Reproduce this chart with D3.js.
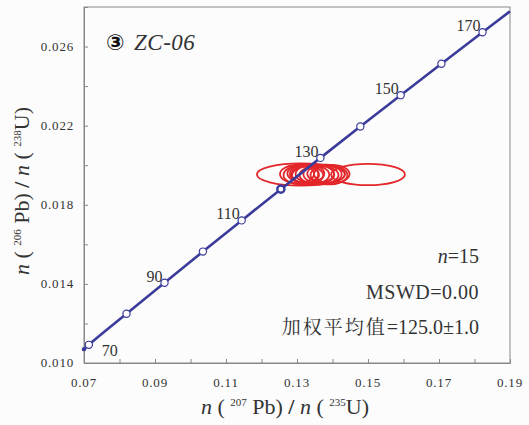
<!DOCTYPE html>
<html>
<head>
<meta charset="utf-8">
<script src="https://cdn.jsdelivr.net/npm/d3@7"></script>
<style>
  body { margin: 0; background: #fcfcfc; }
</style>
</head>
<body>
<div id="chart"></div>
<script>
// concordia curve points (age in Ma, 207Pb/235U, 206Pb/238U)
var curveAge = [68.6, 70, 80, 90, 100, 110, 120, 130, 140, 150, 160, 170, 176.6];
var curveX = [0.0700, 0.07137, 0.08197, 0.09268, 0.10350, 0.11442, 0.12545, 0.13659, 0.14784, 0.15920, 0.17068, 0.18226, 0.1900];
var curveY = [0.01070, 0.010918, 0.012487, 0.014059, 0.015633, 0.017210, 0.018789, 0.020371, 0.021955, 0.023542, 0.025131, 0.026722, 0.02778];
var labelAges = [70, 90, 110, 130, 150, 170];

// analysis ellipses: centre and half-axes
var ellX  = [0.1311, 0.1500, 0.1300, 0.1312, 0.1325, 0.1338, 0.1350, 0.1362, 0.1372, 0.1382, 0.1390, 0.1398, 0.1345, 0.1330, 0.1320];
var ellY  = [0.01953, 0.01953, 0.01955, 0.01950, 0.01958, 0.01952, 0.01956, 0.01950, 0.01954, 0.01957, 0.01951, 0.01955, 0.01953, 0.01949, 0.01956];
var ellRx = [0.0124, 0.0104, 0.0048, 0.0050, 0.0052, 0.0053, 0.0054, 0.0055, 0.0054, 0.0053, 0.0052, 0.0050, 0.0060, 0.0044, 0.0040];
var ellRy = [0.00056, 0.00054, 0.00046, 0.00048, 0.00047, 0.00049, 0.00048, 0.00047, 0.00049, 0.00046, 0.00048, 0.00047, 0.00050, 0.00044, 0.00045];

var xTicks = [0.07, 0.09, 0.11, 0.13, 0.15, 0.17, 0.19];
var yTicks = [0.010, 0.014, 0.018, 0.022, 0.026];

var serif = "'Liberation Serif', 'Tinos', 'Times New Roman'";
var width = 529, height = 425;
var margin = { top: 7, right: 19, bottom: 62, left: 84 };

var x = d3.scaleLinear().domain([0.07, 0.19]).range([margin.left, width - margin.right]);
var y = d3.scaleLinear().domain([0.010, 0.028]).range([height - margin.bottom, margin.top]);

var svg = d3.select("#chart").append("svg")
    .attr("width", width)
    .attr("height", height);

svg.append("rect").attr("width", width).attr("height", height).attr("fill", "#fcfcfc");

// frame
svg.append("rect")
    .attr("x", x(0.07)).attr("y", y(0.028))
    .attr("width", x(0.19) - x(0.07)).attr("height", y(0.010) - y(0.028))
    .attr("fill", "none").attr("stroke", "#888").attr("stroke-width", 1);

// axes with inward ticks
svg.append("g")
    .attr("transform", "translate(0," + y(0.010) + ")")
    .call(d3.axisBottom(x).tickValues(d3.range(0.07, 0.1901, 0.01)).tickSize(-4).tickFormat(""));
svg.append("g")
    .attr("transform", "translate(" + x(0.07) + ",0)")
    .call(d3.axisLeft(y).tickValues(d3.range(0.010, 0.0281, 0.002)).tickSize(-4).tickFormat(""));
svg.selectAll(".domain").attr("stroke", "#888");
svg.selectAll(".tick line").attr("stroke", "#888");

svg.selectAll(".xlab").data(xTicks).enter().append("text")
    .attr("x", function(d) { return x(d); })
    .attr("y", y(0.010) + 24)
    .attr("text-anchor", "middle")
    .attr("fill", "#333")
    .style("font-family", serif)
    .style("font-size", "13px")
    .style("letter-spacing", "0.8px")
    .text(function(d) { return d.toFixed(2); });

svg.selectAll(".ylab").data(yTicks).enter().append("text")
    .attr("x", x(0.07) - 10)
    .attr("y", function(d) { return y(d) + 4; })
    .attr("text-anchor", "end")
    .attr("fill", "#333")
    .style("font-family", serif)
    .style("font-size", "13px")
    .style("letter-spacing", "0.8px")
    .text(function(d) { return d.toFixed(3); });

// ellipses
var ells = d3.range(ellX.length);
svg.selectAll(".ell").data(ells).enter().append("ellipse")
    .attr("cx", function(i) { return x(ellX[i]); })
    .attr("cy", function(i) { return y(ellY[i]); })
    .attr("rx", function(i) { return x(ellX[i] + ellRx[i]) - x(ellX[i]); })
    .attr("ry", function(i) { return y(ellY[i]) - y(ellY[i] + ellRy[i]); })
    .attr("fill", "none")
    .attr("stroke", "#e3262a")
    .attr("stroke-width", 1.8);

// concordia
var pts = curveAge.map(function(a, i) { return { age: a, x: curveX[i], y: curveY[i] }; });
var line = d3.line()
    .x(function(d) { return x(d.x); })
    .y(function(d) { return y(d.y); })
    .curve(d3.curveMonotoneX);
svg.append("path").datum(pts)
    .attr("d", line)
    .attr("fill", "none")
    .attr("stroke", "#3b3b9b")
    .attr("stroke-width", 2.6);

svg.append("circle")
    .attr("cx", x(curveX[0])).attr("cy", y(curveY[0])).attr("r", 2.2)
    .attr("fill", "#3b3b9b");

var ticksPts = pts.filter(function(d) { return d.age % 10 === 0; });
svg.selectAll(".age").data(ticksPts).enter().append("circle")
    .attr("cx", function(d) { return x(d.x); })
    .attr("cy", function(d) { return y(d.y); })
    .attr("r", 3.6)
    .attr("fill", "#fff")
    .attr("stroke", "#3b3b9b")
    .attr("stroke-width", function(d) { return d.age === 120 ? 2.4 : 1.2; });

svg.selectAll(".agelab").data(ticksPts.filter(function(d) { return labelAges.indexOf(d.age) >= 0; }))
    .enter().append("text")
    .attr("x", function(d) { return d.age === 70 ? x(d.x) + 13 : x(d.x) - 2; })
    .attr("y", function(d) { return d.age === 70 ? y(d.y) + 11 : y(d.y) - 1; })
    .attr("text-anchor", function(d) { return d.age === 70 ? "start" : "end"; })
    .attr("fill", "#333")
    .style("font-family", serif)
    .style("font-size", "16px")
    .text(function(d) { return d.age; });

// sample label
svg.append("text")
    .attr("x", 106).attr("y", 50)
    .attr("fill", "#111")
    .style("font-family", "'DejaVu Sans'")
    .style("font-size", "22px")
    .style("font-weight", "bold")
    .text("③");
svg.append("text")
    .attr("x", 134).attr("y", 50)
    .attr("fill", "#333")
    .style("font-family", serif)
    .style("font-size", "23px")
    .style("font-style", "italic")
    .style("letter-spacing", "0.5px")
    .text("ZC-06");

// statistics
function stat(yPos) {
    return svg.append("text").attr("x", 479).attr("y", yPos)
        .attr("text-anchor", "end").attr("fill", "#333")
        .style("font-family", serif).style("font-size", "20px");
}
var t1 = stat(263);
t1.append("tspan").style("font-style", "italic").text("n");
t1.append("tspan").text("=15");
stat(299).style("letter-spacing", "0.5px").text("MSWD=0.00");
var t3 = stat(334);
t3.append("tspan")
    .style("font-family", "'Noto Serif CJK SC'")
    .style("font-size", "19px")
    .style("letter-spacing", "2px")
    .text("加权平均值");
t3.append("tspan").text("=125.0±1.0");

// axis titles
function ratioTitle(sel, a, b, c, d) {
    sel.append("tspan").style("font-style", "italic").text("n");
    sel.append("tspan").text(" ( ");
    sel.append("tspan").style("font-size", "11px").attr("dy", -8).text(a);
    sel.append("tspan").attr("dy", 8).text(" " + b + ")  ");
    sel.append("tspan").style("font-weight", "bold").text("/");
    sel.append("tspan").style("font-style", "italic").text("  n");
    sel.append("tspan").text(" ( ");
    sel.append("tspan").style("font-size", "11px").attr("dy", -8).text(c);
    sel.append("tspan").attr("dy", 8).text(d + ")");
}
var xt = svg.append("text")
    .attr("x", 285).attr("y", 414)
    .attr("text-anchor", "middle")
    .attr("fill", "#333")
    .style("font-family", serif)
    .style("font-size", "22px");
ratioTitle(xt, "207", "Pb", "235", "U");

var yt = svg.append("text")
    .attr("transform", "translate(29,191) rotate(-90)")
    .attr("text-anchor", "middle")
    .attr("fill", "#333")
    .style("font-family", serif)
    .style("font-size", "22px");
ratioTitle(yt, "206", "Pb", "238", "U");
</script>
</body>
</html>
